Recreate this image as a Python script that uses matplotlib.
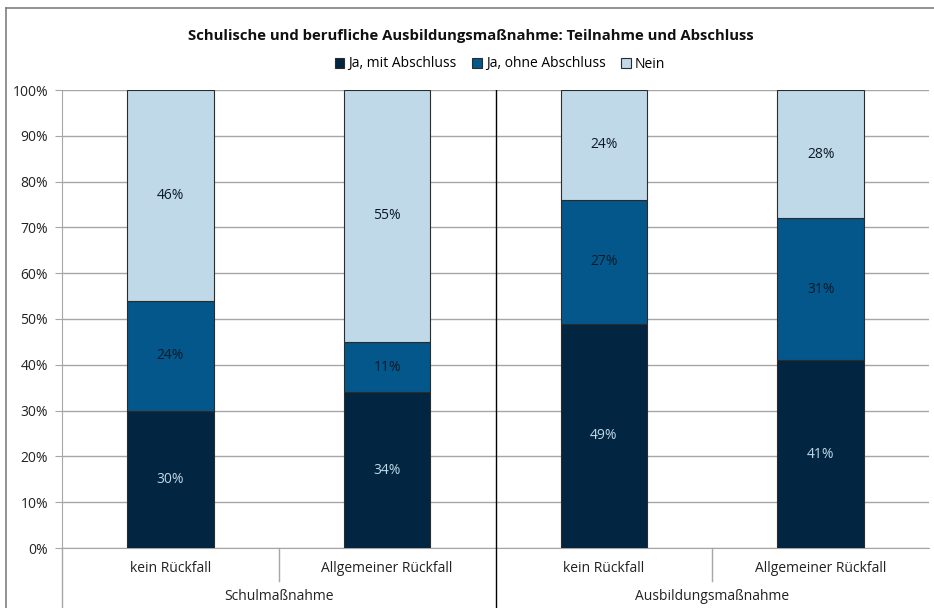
import matplotlib
matplotlib.use("Agg")
import matplotlib.pyplot as plt
from matplotlib.lines import Line2D
from matplotlib.patches import Rectangle

categories = ["kein Rückfall", "Allgemeiner Rückfall", "kein Rückfall", "Allgemeiner Rückfall"]
groups = ["Schulmaßnahme", "Ausbildungsmaßnahme"]
series_names = ["Ja, mit Abschluss", "Ja, ohne Abschluss", "Nein"]
ja_mit = [30, 34, 49, 41]
ja_ohne = [24, 11, 27, 31]
nein = [46, 55, 24, 28]
yticks = [0, 10, 20, 30, 40, 50, 60, 70, 80, 90, 100]

colors = ["#022541", "#04578A", "#C0D9E8"]
label_colors = ["#C0D9E8", "#0b1a2a", "#0b1a2a"]

plt.rcParams['font.family'] = ['Open Sans', 'DejaVu Sans']
FS = 10

W, H = 934, 608
fig = plt.figure(figsize=(W / 100, H / 100), dpi=100)
x0, x1, ytop, ybot = 62, 929, 90, 548
ax = fig.add_axes([x0 / W, (H - ybot) / H, (x1 - x0) / W, (ybot - ytop) / H])

xs = list(range(len(categories)))
bottom = [0] * len(categories)
for vals, col, lc, name in zip([ja_mit, ja_ohne, nein], colors, label_colors, series_names):
    ax.bar(xs, vals, bottom=bottom, width=0.4, color=col, edgecolor="#2b2b2b",
           linewidth=0.8, label=name, zorder=3)
    for x, v, b in zip(xs, vals, bottom):
        ax.text(x, b + v / 2, f"{v}%", ha="center", va="center", fontsize=FS, color=lc, zorder=4)
    bottom = [b + v for b, v in zip(bottom, vals)]

ax.set_xlim(-0.5, len(categories) - 0.5)
ax.set_ylim(0, 100)
ax.set_yticks(yticks)
ax.set_yticklabels([f"{t}%" for t in yticks], fontsize=FS, color="#222222")
ax.yaxis.grid(True, color="#a6a6a6", linewidth=1.0, zorder=0)
ax.set_xticks([])
for s in ["top", "right"]:
    ax.spines[s].set_visible(False)
ax.spines["left"].set_color("#a6a6a6")
ax.spines["bottom"].set_color("#a6a6a6")
ax.tick_params(axis="y", length=5, color="#a6a6a6", pad=5)

ax.axvline(1.5, color="#000000", linewidth=1.0, zorder=2)

def fx(xd):
    return ax.transData.transform((xd, 0))[0] / W

fig.canvas.draw()
ty = lambda py: (H - py) / H
for x, c in zip(xs, categories):
    fig.text(fx(x), ty(568), c, ha="center", va="center", fontsize=FS, color="#222222")
for gi, g in enumerate(groups):
    fig.text(fx(gi * 2 + 0.5), ty(597), g, ha="center", va="center", fontsize=FS, color="#222222")
for xd in [0.5, 2.5]:
    fig.add_artist(Line2D([fx(xd)] * 2, [ty(548), ty(581)], color="#a6a6a6", linewidth=1.0))
fig.add_artist(Line2D([fx(1.5)] * 2, [ty(548), ty(608)], color="#000000", linewidth=1.0))
fig.add_artist(Line2D([fx(-0.5)] * 2, [ty(548), ty(608)], color="#a6a6a6", linewidth=1.0))

fig.add_artist(Line2D([6 / W, 6 / W], [0, ty(8)], color="#7f7f7f", linewidth=1.2))
fig.add_artist(Line2D([6 / W, 1], [ty(8), ty(8)], color="#7f7f7f", linewidth=1.2))

fig.text(471 / W, ty(36), "Schulische und berufliche Ausbildungsmaßnahme: Teilnahme und Abschluss",
         ha="center", va="center", fontsize=10.7, fontweight="bold", color="#111111")

handles = [Rectangle((0, 0), 1, 1, facecolor=c, edgecolor="#2b2b2b", linewidth=0.8) for c in colors]
fig.legend(handles, series_names, loc="center", bbox_to_anchor=(500 / W, ty(64)), ncol=3,
           frameon=False, fontsize=FS, handlelength=0.7, handleheight=0.7, handletextpad=0.3,
           columnspacing=1.1)

fig.savefig("out.png", dpi=100)
